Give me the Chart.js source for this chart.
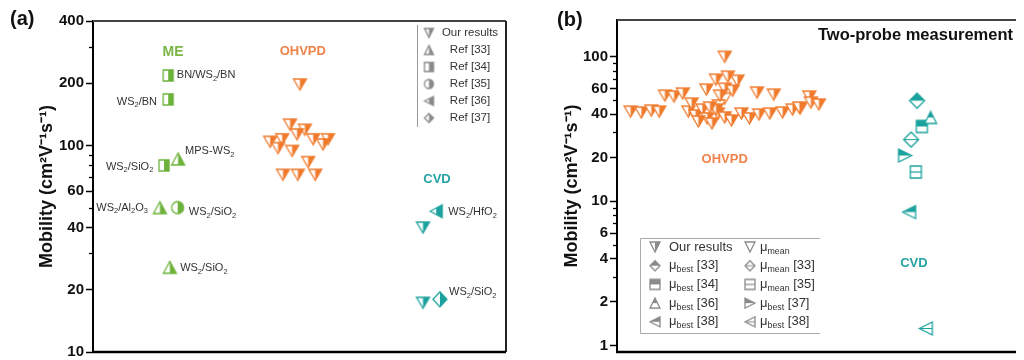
<!DOCTYPE html>
<html>
<head>
<meta charset="utf-8">
<script src="https://cdn.jsdelivr.net/npm/chart.js@4.4.1/dist/chart.umd.min.js"></script>
<style>
  body { margin: 0; background: #fff; width: 1024px; height: 360px; overflow: hidden; position: relative; }
  canvas { position: absolute; top: 0; }
  #chartA { left: 0; }
  #chartB { left: 520px; }
</style>
</head>
<body>
<canvas id="chartA" width="520" height="360"></canvas>
<canvas id="chartB" width="504" height="360"></canvas>
<script>
// ---- panel (a) data ----
const aTickValues = [10, 20, 30, 40, 50, 60, 70, 80, 90, 100, 200, 300, 400];
const aTickLabels = [10, 20, 40, 60, 100, 200, 400];
const aOhvpdX = [50.1, 47.7, 51.3, 49.4, 45.8, 42.9, 53.3, 56.9, 55.7, 44.8, 48.2, 52.1, 46.0, 49.6, 53.8];
const aOhvpdY = [197, 126, 119, 113, 107, 104, 107, 107, 101, 97, 94, 83, 72, 72, 72];
const aCvdOurX = [79.9, 79.9];
const aCvdOurY = [40, 17.3];
const aRef33X = [20.6, 16.2, 18.6];
const aRef33Y = [86, 50, 25.7];
const aRef34X = [18.2, 18.2, 17.2];
const aRef34Y = [218, 167, 80];
const aRef35X = [20.5];
const aRef35Y = [50];
const aRef36X = [83.1];
const aRef36Y = [48];
const aRef37X = [84.0];
const aRef37Y = [18];

// ---- panel (b) data ----
const bTickValues = [1, 2, 3, 4, 5, 6, 7, 8, 9, 10, 20, 30, 40, 50, 60, 70, 80, 90, 100];
const bTickLabels = [1, 2, 4, 6, 10, 20, 40, 60, 100];
const bOurX = [3.4, 6.1, 8.6, 10.6, 12.0, 14.3, 16.5, 17.9, 19.7, 21.4, 22.6, 23.8, 25.3, 27.0, 24.8, 28.7,
  31.2, 33.2, 35.6, 38.3, 41.5, 44.0, 45.9, 22.4, 24.8, 27.0, 27.8, 30.2, 27.0, 29.0, 25.8, 35.1, 39.3,
  48.2, 48.6, 50.6, 18.7, 23.3, 20.4, 45.7];
const bOurY = [41.7, 41.1, 42.4, 41.7, 53.8, 53.0, 55.6, 41.7, 39.2, 43.1, 37.4, 34.5, 40.4, 38.0, 43.1, 36.2,
  40.4, 37.4, 39.8, 40.4, 41.1, 43.1, 43.8, 59.2, 69.4, 100, 72.8, 68.3, 60.1, 58.3, 53.8, 56.5, 54.7,
  53.0, 48.2, 46.7, 47.4, 44.5, 35.6, 44.5];
const bMeanX = [27.0, 25.5];
const bMeanY = [51.3, 46.0];
const bBest33X = [75.2], bBest33Y = [49.7];
const bMean33X = [73.7], bMean33Y = [26.7];
const bBest34X = [76.4], bBest34Y = [32.9];
const bMean35X = [74.9], bMean35Y = [15.9];
const bBest36X = [78.6], bBest36Y = [38];
const bBest37X = [72.2], bBest37Y = [20.7];
const bBest38X = [73.2], bBest38Y = [8.4];
const bBest38oX = [77.4], bBest38oY = [1.31];

const FONT = "'Liberation Sans', Arial, Helvetica, sans-serif";
const GREEN = '#6cb23a';
const ORANGE = '#f07a2c';
const TEAL = '#1ca29e';
const GREY = '#8a8a8a';
const TITLE = 'Mobility (cm²V⁻¹s⁻¹)';

// marker bitmaps: shape + how it is filled
function marker(shape, mode, color, w, h) {
  const pad = 2;
  const c = document.createElement('canvas');
  c.width = w + pad * 2;
  c.height = h + pad * 2;
  const g = c.getContext('2d');
  g.translate(pad, pad);
  const p = new Path2D();
  if (shape === 'down') { p.moveTo(0, 0); p.lineTo(w, 0); p.lineTo(w / 2, h); }
  if (shape === 'up') { p.moveTo(w / 2, 0); p.lineTo(w, h); p.lineTo(0, h); }
  if (shape === 'left') { p.moveTo(0, h / 2); p.lineTo(w, 0); p.lineTo(w, h); }
  if (shape === 'right') { p.moveTo(0, 0); p.lineTo(w, h / 2); p.lineTo(0, h); }
  if (shape === 'square') { p.rect(0, 0, w, h); }
  if (shape === 'circle') { p.ellipse(w / 2, h / 2, w / 2, h / 2, 0, 0, Math.PI * 2); }
  if (shape === 'diamond') { p.moveTo(w / 2, 0); p.lineTo(w, h / 2); p.lineTo(w / 2, h); p.lineTo(0, h / 2); }
  p.closePath();
  g.fillStyle = '#fff';
  g.fill(p);
  g.save();
  g.clip(p);
  g.fillStyle = color;
  if (mode === 'right') g.fillRect(w / 2, 0, w, h);
  if (mode === 'top') g.fillRect(0, 0, w, h / 2);
  if (mode === 'line') {
    g.strokeStyle = color; g.lineWidth = 1.2;
    g.beginPath(); g.moveTo(0, h / 2); g.lineTo(w, h / 2); g.stroke();
  }
  g.restore();
  g.strokeStyle = color;
  g.lineWidth = 1.3;
  g.stroke(p);
  return c;
}

function ds(xs, ys, img) {
  return {
    data: xs.map((x, i) => ({ x: x, y: ys[i] })),
    pointStyle: img, pointRadius: 7, showLine: false
  };
}

// text with _x or _{xx} subscripts
function drawRich(ctx, str, x, y, size, align, color, weight) {
  const segs = [];
  let buf = '', i = 0;
  while (i < str.length) {
    if (str[i] === '_') {
      if (buf) { segs.push({ t: buf, sub: false }); buf = ''; }
      let s;
      if (str[i + 1] === '{') { const j = str.indexOf('}', i); s = str.slice(i + 2, j); i = j + 1; }
      else { s = str[i + 1]; i += 2; }
      segs.push({ t: s, sub: true });
    } else { buf += str[i]; i++; }
  }
  if (buf) segs.push({ t: buf, sub: false });
  const f = s => (weight || 'normal') + ' ' + s + 'px ' + FONT;
  let w = 0;
  segs.forEach(sg => { ctx.font = f(sg.sub ? size * 0.68 : size); sg.w = ctx.measureText(sg.t).width; w += sg.w; });
  let cx = align === 'right' ? x - w : align === 'center' ? x - w / 2 : x;
  ctx.fillStyle = color;
  ctx.textBaseline = 'middle';
  ctx.textAlign = 'left';
  segs.forEach(sg => {
    ctx.font = f(sg.sub ? size * 0.68 : size);
    ctx.fillText(sg.t, cx, sg.sub ? y + size * 0.32 : y);
    cx += sg.w;
  });
}

function yAxis(min, max, ticks, labels, width, titlePad) {
  return {
    type: 'logarithmic', min: min, max: max,
    afterBuildTicks: s => { s.ticks = ticks.map(v => ({ value: v })); },
    afterFit: s => { s.width = width; s.paddingTop = 0; s.paddingBottom = 0; },
    border: { color: '#000', width: 2 },
    grid: {
      drawOnChartArea: false, drawTicks: true, tickLength: 7, tickWidth: 1.5,
      tickColor: c => labels.includes(c.tick.value) ? '#000' : 'rgba(0,0,0,0)'
    },
    ticks: {
      autoSkip: false, padding: 2, color: '#111',
      font: { family: FONT, size: 15, weight: 'bold' },
      callback: v => labels.includes(v) ? String(v) : ''
    },
    title: {
      display: true, text: TITLE, color: '#111',
      font: { family: FONT, size: 18, weight: 'bold' },
      padding: { top: titlePad, bottom: 0 }
    }
  };
}

// frame, minor ticks, notes and legend
function decor(opts) {
  return {
    id: 'decor',
    afterDatasetsDraw(chart) {
      const ctx = chart.ctx, a = chart.chartArea;
      const xs = chart.scales.x, ys = chart.scales.y;
      ctx.save();
      ctx.strokeStyle = '#000'; ctx.lineWidth = 1.3;
      opts.ticks.filter(v => !opts.labels.includes(v)).forEach(v => {
        const py = Math.round(ys.getPixelForValue(v)) + 0.5;
        ctx.beginPath(); ctx.moveTo(a.left - 4, py); ctx.lineTo(a.left, py); ctx.stroke();
      });
      ctx.strokeStyle = '#444'; ctx.lineWidth = 2;
      ctx.beginPath(); ctx.moveTo(a.left, a.top); ctx.lineTo(a.right, a.top); ctx.stroke();
      if (opts.rightBorder) {
        ctx.strokeStyle = '#222';
        ctx.beginPath(); ctx.moveTo(a.right, a.top); ctx.lineTo(a.right, a.bottom); ctx.stroke();
      }
      ctx.strokeStyle = '#000'; ctx.lineWidth = 2.5;
      ctx.beginPath(); ctx.moveTo(a.left - 1, a.bottom); ctx.lineTo(a.right, a.bottom); ctx.stroke();
      opts.notes.forEach(n => {
        drawRich(ctx, n.t, xs.getPixelForValue(n.x), ys.getPixelForValue(n.y),
          n.size || 11, n.align || 'left', n.color || '#333', n.bold ? 'bold' : 'normal');
      });
      opts.extra(ctx, a);
      ctx.restore();
    }
  };
}

// ---- panel (a) ----
const aNotes = [
  { t: 'ME', x: 19.4, y: 284, color: '#7ab648', size: 14, bold: true, align: 'center' },
  { t: 'OHVPD', x: 50.8, y: 284, color: '#f0834a', size: 13, bold: true, align: 'center' },
  { t: 'CVD', x: 83.3, y: 68.5, color: '#26a3a3', size: 13, bold: true, align: 'center' },
  { t: 'BN/WS_2/BN', x: 20.3, y: 218 },
  { t: 'WS_2/BN', x: 15.5, y: 163, align: 'right' },
  { t: 'WS_2/SiO_2', x: 14.6, y: 79, align: 'right' },
  { t: 'MPS-WS_2', x: 22.3, y: 93.5 },
  { t: 'WS_2/Al_2O_3', x: 13.3, y: 50, align: 'right' },
  { t: 'WS_2/SiO_2', x: 23.2, y: 47.5 },
  { t: 'WS_2/SiO_2', x: 21.1, y: 25.5 },
  { t: 'WS_2/HfO_2', x: 86.0, y: 47.5 },
  { t: 'WS_2/SiO_2', x: 86.2, y: 19.5 }
];
const aLegend = [
  ['down', 'right', 'Our results'], ['up', 'right', 'Ref [33]'], ['square', 'right', 'Ref [34]'],
  ['circle', 'right', 'Ref [35]'], ['left', 'right', 'Ref [36]'], ['diamond', 'right', 'Ref [37]']
];

new Chart(document.getElementById('chartA'), {
  type: 'scatter',
  data: {
    datasets: [
      ds(aRef34X, aRef34Y, marker('square', 'right', GREEN, 10, 11)),
      ds(aRef33X, aRef33Y, marker('up', 'right', GREEN, 13, 12)),
      ds(aRef35X, aRef35Y, marker('circle', 'right', GREEN, 12, 12)),
      ds(aOhvpdX, aOhvpdY, marker('down', 'right', ORANGE, 13, 11)),
      ds(aCvdOurX, aCvdOurY, marker('down', 'right', TEAL, 13, 11)),
      ds(aRef36X, aRef36Y, marker('left', 'right', TEAL, 12, 13)),
      ds(aRef37X, aRef37Y, marker('diamond', 'right', TEAL, 14, 15))
    ]
  },
  options: {
    responsive: false, animation: false, events: [], devicePixelRatio: 1,
    layout: { padding: { left: 0, top: 21, right: 14, bottom: 7 } },
    plugins: { legend: { display: false }, tooltip: { enabled: false } },
    scales: {
      x: { type: 'linear', min: 0, max: 100, display: false },
      y: yAxis(10, 400, aTickValues, aTickLabels, 93, 36)
    }
  },
  plugins: [decor({
    ticks: aTickValues, labels: aTickLabels, notes: aNotes, rightBorder: true,
    extra(ctx, a) {
      const lx = a.right - 89;
      ctx.strokeStyle = '#999'; ctx.lineWidth = 1;
      ctx.beginPath(); ctx.moveTo(lx + 0.5, a.top + 4); ctx.lineTo(lx + 0.5, a.top + 106); ctx.stroke();
      aLegend.forEach((it, i) => {
        const y = a.top + 12 + i * 17;
        const img = marker(it[0], it[1], GREY, 9, 9);
        ctx.drawImage(img, lx + 12 - img.width / 2, y - img.height / 2);
        drawRich(ctx, it[2], lx + 53, y, 11.5, 'center', '#333');
      });
      drawRich(ctx, '(a)', 10, 19, 20, 'left', '#111', 'bold');
    }
  })]
});

// ---- panel (b) ----
const bNotes = [
  { t: 'OHVPD', x: 27.0, y: 19.5, color: '#f0834a', size: 13, bold: true, align: 'center' },
  { t: 'CVD', x: 74.4, y: 3.7, color: '#26a3a3', size: 13, bold: true, align: 'center' }
];
const bLegend = [
  ['down', 'right', 'Our results'], ['down', 'none', 'μ_{mean}'],
  ['diamond', 'top', 'μ_{best} [33]'], ['diamond', 'line', 'μ_{mean} [33]'],
  ['square', 'top', 'μ_{best} [34]'], ['square', 'line', 'μ_{mean} [35]'],
  ['up', 'top', 'μ_{best} [36]'], ['right', 'top', 'μ_{best} [37]'],
  ['left', 'top', 'μ_{best} [38]'], ['left', 'line', 'μ_{best} [38]']
];

new Chart(document.getElementById('chartB'), {
  type: 'scatter',
  data: {
    datasets: [
      ds(bOurX, bOurY, marker('down', 'right', ORANGE, 13, 11)),
      ds(bMeanX, bMeanY, marker('down', 'none', ORANGE, 13, 11)),
      ds(bBest33X, bBest33Y, marker('diamond', 'top', TEAL, 15, 15)),
      ds(bMean33X, bMean33Y, marker('diamond', 'line', TEAL, 15, 15)),
      ds(bBest36X, bBest36Y, marker('up', 'top', TEAL, 12, 12)),
      ds(bBest34X, bBest34Y, marker('square', 'top', TEAL, 11, 12)),
      ds(bMean35X, bMean35Y, marker('square', 'line', TEAL, 11, 12)),
      ds(bBest37X, bBest37Y, marker('right', 'top', TEAL, 13, 13)),
      ds(bBest38X, bBest38Y, marker('left', 'top', TEAL, 13, 13)),
      ds(bBest38oX, bBest38oY, marker('left', 'line', TEAL, 13, 13))
    ]
  },
  options: {
    responsive: false, animation: false, events: [], devicePixelRatio: 1,
    layout: { padding: { left: 0, top: 20, right: 0, bottom: 7 } },
    plugins: { legend: { display: false }, tooltip: { enabled: false } },
    scales: {
      x: { type: 'linear', min: 0, max: 100, display: false },
      y: yAxis(0.9, 180, bTickValues, bTickLabels, 97, 41)
    }
  },
  plugins: [decor({
    ticks: bTickValues, labels: bTickLabels, notes: bNotes, rightBorder: false,
    extra(ctx, a) {
      const L = 120, T = 238, R = 300, B = 333;
      ctx.strokeStyle = '#aaa'; ctx.lineWidth = 1;
      ctx.beginPath();
      ctx.moveTo(R, T + 0.5); ctx.lineTo(L + 0.5, T + 0.5); ctx.lineTo(L + 0.5, B + 0.5); ctx.lineTo(R, B + 0.5);
      ctx.stroke();
      bLegend.forEach((it, i) => {
        const row = Math.floor(i / 2), col = i % 2;
        const y = 247 + row * 18.7;
        const ix = col === 0 ? 135 : 230;
        const tx = col === 0 ? 149 : 240;
        const img = marker(it[0], it[1], GREY, 10, 10);
        ctx.drawImage(img, ix - img.width / 2, y - img.height / 2);
        drawRich(ctx, it[2], tx, y, 13, 'left', '#333');
      });
      drawRich(ctx, '(b)', 37, 20, 20, 'left', '#111', 'bold');
      drawRich(ctx, 'Two-probe measurement', 298, 35, 16.5, 'left', '#111', 'bold');
    }
  })]
});
</script>
</body>
</html>
